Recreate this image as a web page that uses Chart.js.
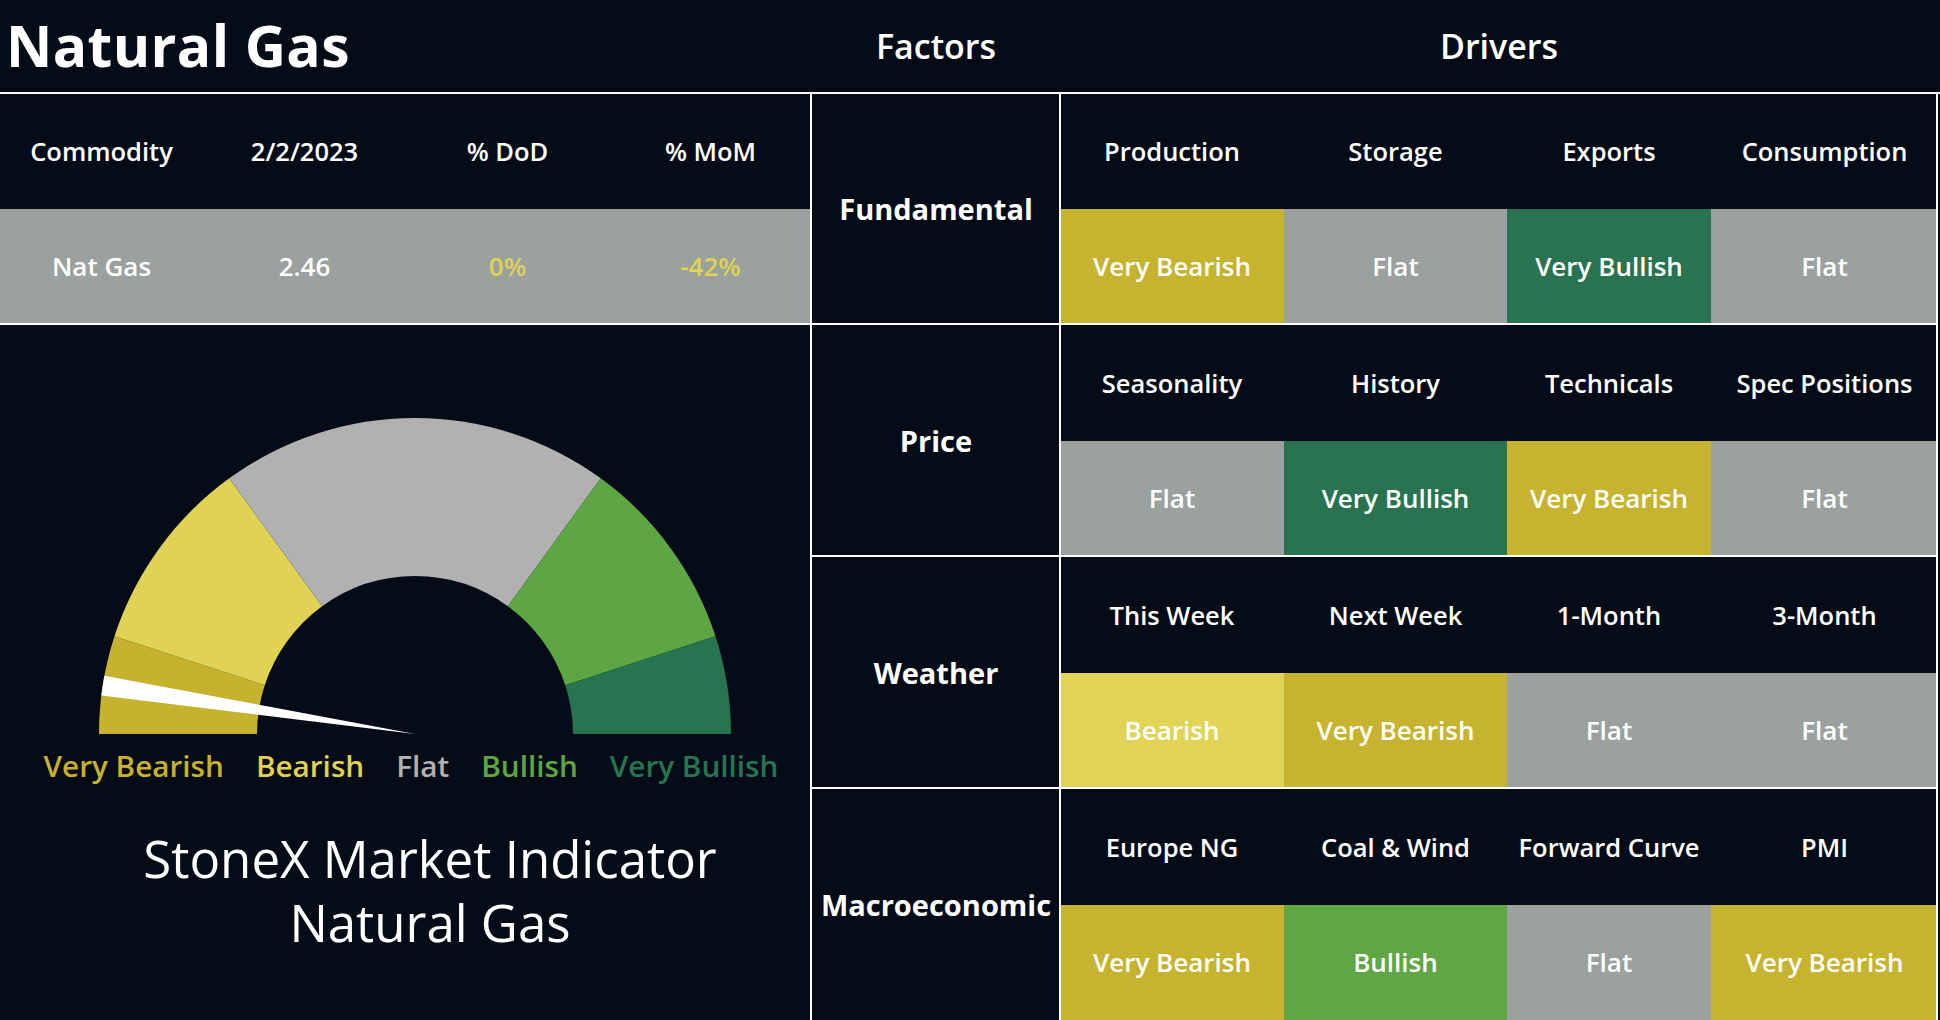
<!DOCTYPE html>
<html>
<head>
<meta charset="utf-8">
<script src="https://cdn.jsdelivr.net/npm/chart.js@4"></script>
<style>
  html, body { margin:0; padding:0; }
  body { width:1940px; height:1020px; background:#050c18; overflow:hidden; position:relative;
         font-family:"Open Sans", "Lato", sans-serif; color:#ffffff; }
  .abs { position:absolute; }
  .cell { position:absolute; display:flex; align-items:center; justify-content:center; text-align:center; white-space:nowrap; }
  .cell span { position:relative; top:-1px; }
  .line { position:absolute; background:#ffffff; }
  #title { position:absolute; left:6px; top:-2px; height:93px; display:flex; align-items:center; font-weight:700; font-size:57px; letter-spacing:0.4px; }
  .hdr { font-weight:600; font-size:34px; }
  .colhdr { font-weight:600; font-size:25.5px; }
  .factor { font-weight:700; font-size:29px; }
  .val { font-weight:600; font-size:26px; }
  #gaugeLabels { position:absolute; left:0; width:822px; top:745px; height:44px; display:flex; justify-content:center; gap:32px; font-weight:600; font-size:29.7px; }
  #caption { position:absolute; left:130px; width:600px; top:826px; text-align:center; font-weight:400; font-size:51px; line-height:64px; }
</style>
</head>
<body>
<div id="title">Natural Gas</div>
<div class="cell hdr" style="left:812px;width:248px;top:0;height:93px;"><span>Factors</span></div>
<div class="cell hdr" style="left:1060px;width:878px;top:0;height:93px;"><span>Drivers</span></div>

<div id="left"></div>
<div id="right"></div>

<div class="abs" style="left:99px;top:418px;width:632px;height:316px;"><canvas id="gauge"></canvas></div>
<div class="abs" style="left:99px;top:418px;width:632px;height:316px;"><canvas id="needle"></canvas></div>
<div id="gaugeLabels"></div>
<div id="caption">StoneX Market Indicator<br>Natural Gas</div>

<div class="line" style="left:0;top:92px;width:1940px;height:2px;"></div>
<div class="line" style="left:0;top:323px;width:1938px;height:2px;"></div>
<div class="line" style="left:812px;top:555px;width:1126px;height:2px;"></div>
<div class="line" style="left:812px;top:787px;width:1126px;height:2px;"></div>
<div class="line" style="left:810px;top:93px;width:2px;height:927px;"></div>
<div class="line" style="left:1059px;top:93px;width:2px;height:927px;"></div>
<div class="line" style="left:1936px;top:93px;width:2px;height:927px;"></div>

<script>
// ---------- data ----------
const gaugeLabels = ['Very Bearish', 'Bearish', 'Flat', 'Bullish', 'Very Bullish'];
const gaugeValues = [10, 20, 40, 20, 10];
const needleValue = 4.9;
const needleWidth = 2;

const commodityHeaders = ['Commodity', '2/2/2023', '% DoD', '% MoM'];
const commodityRow = ['Nat Gas', '2.46', '0%', '-42%'];

const factors = ['Fundamental', 'Price', 'Weather', 'Macroeconomic'];
const driverNames = [
  ['Production', 'Storage', 'Exports', 'Consumption'],
  ['Seasonality', 'History', 'Technicals', 'Spec Positions'],
  ['This Week', 'Next Week', '1-Month', '3-Month'],
  ['Europe NG', 'Coal & Wind', 'Forward Curve', 'PMI']
];
const driverRatings = [
  ['Very Bearish', 'Flat', 'Very Bullish', 'Flat'],
  ['Flat', 'Very Bullish', 'Very Bearish', 'Flat'],
  ['Bearish', 'Very Bearish', 'Flat', 'Flat'],
  ['Very Bearish', 'Bullish', 'Flat', 'Very Bearish']
];

// ---------- styles ----------
const gaugeColors = ['#c6b22f', '#dfd255', '#b1b1b1', '#5ea643', '#287451'];
const cellColors = {
  'Very Bearish': '#c6b330',
  'Bearish': '#e0d356',
  'Flat': '#9aa19f',
  'Bullish': '#60a644',
  'Very Bullish': '#2a7350'
};
const commodityTextColors = ['#ffffff', '#ffffff', '#dfd255', '#dfd255'];
const leftCols = [0, 203, 406, 609, 812];
const rightCols = [1060, 1284, 1507, 1711, 1938];

function addCell(parent, cls, text, x, y, w, h, bg, color) {
  const d = document.createElement('div');
  d.className = 'cell ' + cls;
  d.style.left = x + 'px'; d.style.top = y + 'px';
  d.style.width = w + 'px'; d.style.height = h + 'px';
  if (bg) d.style.background = bg;
  if (color) d.style.color = color;
  const s = document.createElement('span');
  s.textContent = text;
  d.appendChild(s);
  parent.appendChild(d);
}

const left = document.getElementById('left');
addCell(left, '', '', 0, 209, 812, 115, '#9aa19f');
commodityHeaders.forEach((t, i) => addCell(left, 'colhdr', t, leftCols[i], 94, leftCols[i+1]-leftCols[i], 115));
commodityRow.forEach((t, i) => addCell(left, 'val', t, leftCols[i], 209, leftCols[i+1]-leftCols[i], 115, null, commodityTextColors[i]));

const right = document.getElementById('right');
factors.forEach((f, k) => {
  const top = 93 + 232 * k;
  addCell(right, 'factor', f, 812, top, 248, 232);
  driverNames[k].forEach((n, j) => addCell(right, 'colhdr', n, rightCols[j], top + 1, rightCols[j+1]-rightCols[j], 115));
  driverRatings[k].forEach((r, j) => addCell(right, 'val', r, rightCols[j], top + 116, rightCols[j+1]-rightCols[j], 115, cellColors[r]));
});

const gl = document.getElementById('gaugeLabels');
gaugeLabels.forEach((t, i) => {
  const s = document.createElement('span');
  s.textContent = t; s.style.color = gaugeColors[i];
  gl.appendChild(s);
});

// ---------- gauge ----------
const common = {
  responsive: true, maintainAspectRatio: false, animation: false, events: [],
  rotation: -90, circumference: 180,
  layout: { padding: 0 },
  plugins: { legend: { display: false }, tooltip: { enabled: false } }
};

new Chart(document.getElementById('gauge'), {
  type: 'doughnut',
  data: { labels: gaugeLabels, datasets: [{ data: gaugeValues, backgroundColor: gaugeColors, borderWidth: 0 }] },
  options: Object.assign({}, common, { cutout: '50%' })
});

const total = gaugeValues.reduce((a, b) => a + b, 0);
new Chart(document.getElementById('needle'), {
  type: 'pie',
  data: { labels: ['', 'needle', ''], datasets: [{
    data: [needleValue - needleWidth / 2, needleWidth, total - needleValue - needleWidth / 2],
    backgroundColor: ['rgba(0,0,0,0)', '#ffffff', 'rgba(0,0,0,0)'], borderWidth: 0 }] },
  options: Object.assign({}, common)
});
</script>
</body>
</html>
